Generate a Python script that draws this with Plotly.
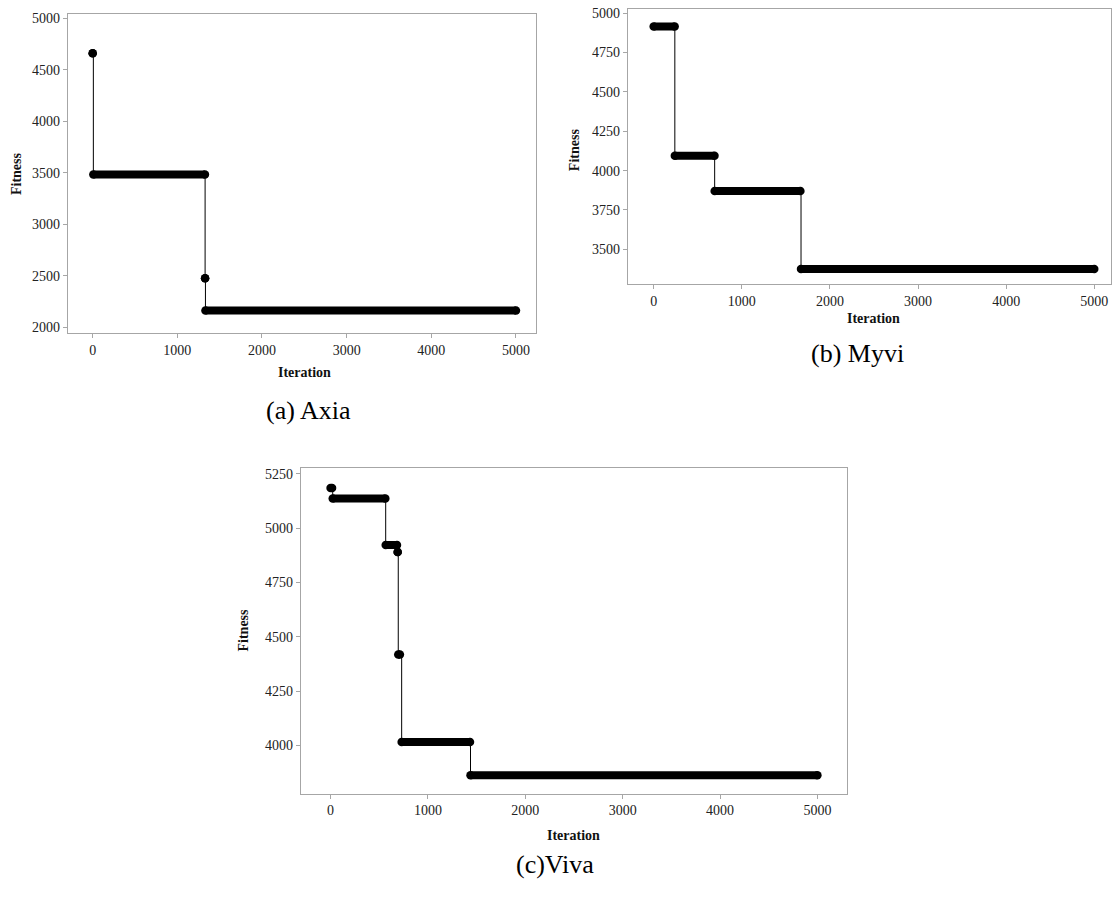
import plotly.graph_objects as go

W, H = 1112, 897

# ---------------- data ----------------
# each plateau: start iteration, end iteration, fitness value
axia_start = [0, 8, 1328, 1332]
axia_end = [0, 1326, 1328, 5000]
axia_fit = [4663, 3485, 2475, 2162]

myvi_start = [0, 240, 692, 1672]
myvi_end = [238, 690, 1665, 5000]
myvi_fit = [4915, 4095, 3870, 3375]

viva_start = [0, 22, 566, 689, 695, 730, 1437]
viva_end = [15, 562, 682, 689, 712, 1432, 5000]
viva_fit = [5184, 5136, 4922, 4890, 4419, 4016, 3863]

x_ticks = [0, 1000, 2000, 3000, 4000, 5000]
axia_yticks = [2000, 2500, 3000, 3500, 4000, 4500, 5000]
myvi_yticks = [3500, 3750, 4000, 4250, 4500, 4750, 5000]
viva_yticks = [4000, 4250, 4500, 4750, 5000, 5250]

captions = ["(a) Axia", "(b) Myvi", "(c)Viva"]

# ---------------- layout helpers (pixel boxes) ----------------
def px_x(p):
    return p / W

def px_y(p):
    return 1 - p / H

panels = [
    dict(data=(axia_start, axia_end, axia_fit), yticks=axia_yticks,
         box=(67.7, 535.7, 11, 332.3), xr=[-295, 5233], yr=[1939, 5045]),
    dict(data=(myvi_start, myvi_end, myvi_fit), yticks=myvi_yticks,
         box=(627.7, 1111, 5.7, 282.7), xr=[-295, 5190], yr=[3279, 5029]),
    dict(data=(viva_start, viva_end, viva_fit), yticks=viva_yticks,
         box=(300.7, 846.9, 467.7, 795), xr=[-307, 5303], yr=[3779, 5276]),
]

FONT = "Liberation Serif"
GRAY = "#a6a6a6"

fig = go.Figure()
layout = dict(
    width=W, height=H, margin=dict(l=0, r=0, t=0, b=0),
    paper_bgcolor="white", plot_bgcolor="white", showlegend=False,
    font=dict(family=FONT, color="#222", size=14),
)
annotations = []

for i, p in enumerate(panels):
    s, e, v = p["data"]
    xa = "x" if i == 0 else f"x{i+1}"
    ya = "y" if i == 0 else f"y{i+1}"
    # thin step connector
    sx, sy = [], []
    for a, b, c in zip(s, e, v):
        sx += [a, b]
        sy += [c, c]
    fig.add_trace(go.Scatter(x=sx, y=sy, mode="lines", line_shape="hv",
                             line=dict(color="black", width=1),
                             xaxis=xa, yaxis=ya, hoverinfo="skip"))
    # thick plateaus made of markers
    px_, py_ = [], []
    for a, b, c in zip(s, e, v):
        px_ += [a, b, None]
        py_ += [c, c, None]
    fig.add_trace(go.Scatter(x=px_, y=py_, mode="lines+markers",
                             line=dict(color="black", width=8),
                             marker=dict(color="black", size=8.5),
                             xaxis=xa, yaxis=ya, connectgaps=False,
                             hoverinfo="skip"))
    x0, x1, y0, y1 = p["box"]
    axx = dict(domain=[px_x(x0), px_x(x1)], range=p["xr"], anchor=ya,
               tickvals=x_ticks, ticktext=[str(t) for t in x_ticks],
               showline=True, mirror=True, linecolor=GRAY, linewidth=1,
               ticks="outside", ticklen=4, tickcolor=GRAY, showgrid=False,
               zeroline=False, tickfont=dict(family=FONT, size=14, color="#222"))
    axy = dict(domain=[px_y(y1), px_y(y0)], range=p["yr"], anchor=xa,
               tickvals=p["yticks"], ticktext=[str(t) for t in p["yticks"]],
               showline=True, mirror=True, linecolor=GRAY, linewidth=1,
               ticks="outside", ticklen=4, tickcolor=GRAY, showgrid=False,
               zeroline=False, tickfont=dict(family=FONT, size=14, color="#222"))
    layout["xaxis" if i == 0 else f"xaxis{i+1}"] = axx
    layout["yaxis" if i == 0 else f"yaxis{i+1}"] = axy

# axis titles and captions
title_pos = [
    # (Iteration x, y), (Fitness x, y), (caption x, y)
    ((304, 372), (16, 172), (308, 410)),
    ((873, 317), (574, 148), (857, 352)),
    ((573, 837), (243, 631), (555, 866)),
]

for idx, ((ix, iy), (fx, fy), (cx, cy)) in enumerate(title_pos):
    annotations.append(dict(x=px_x(ix), y=px_y(iy), xref="paper", yref="paper",
                            text="<b>Iteration</b>", showarrow=False,
                            font=dict(family=FONT, size=14, color="#111"),
                            xanchor="center", yanchor="middle"))
    annotations.append(dict(x=px_x(fx), y=px_y(fy), xref="paper", yref="paper",
                            text="<b>Fitness</b>", showarrow=False, textangle=-90,
                            font=dict(family=FONT, size=14, color="#111"),
                            xanchor="center", yanchor="middle"))
    annotations.append(dict(x=px_x(cx), y=px_y(cy), xref="paper", yref="paper",
                            text=captions[idx], showarrow=False,
                            font=dict(family=FONT, size=26, color="#000"),
                            xanchor="center", yanchor="middle"))

layout["annotations"] = annotations
fig.update_layout(**layout)
fig.write_html("out.html")
